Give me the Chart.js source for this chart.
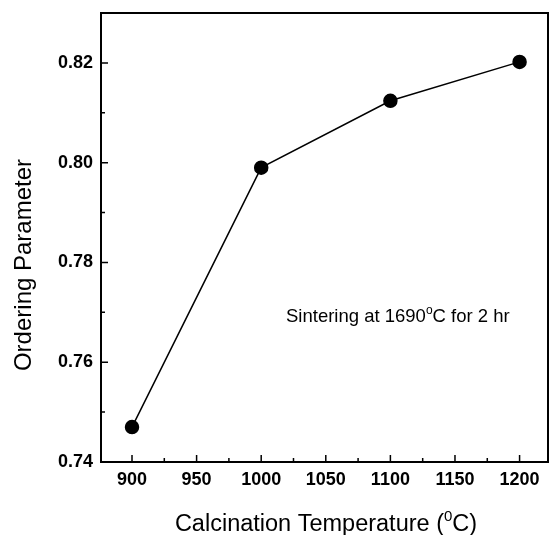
<!DOCTYPE html>
<html>
<head>
<meta charset="utf-8">
<script src="https://cdn.jsdelivr.net/npm/chart.js@4.4.0/dist/chart.umd.min.js"></script>
<style>
  html, body { margin: 0; padding: 0; background: #fff; overflow: hidden; }
  canvas { display: block; }
</style>
</head>
<body>
<canvas id="chart" width="550" height="535"></canvas>
<script>
// data
const temperatures = [900, 1000, 1100, 1200];
const orderingParameter = [0.747, 0.799, 0.8124, 0.8202];
const xTicks = [900, 950, 1000, 1050, 1100, 1150, 1200];
const yTicks = [0.74, 0.76, 0.78, 0.80, 0.82];
const xTitle = ['Calcination Temperature (', '0', 'C)'];
const yTitle = 'Ordering Parameter';
const note = ['Sintering at 1690', 'o', 'C for 2 hr'];

const FONT = "'Liberation Sans', Arial, sans-serif";
Chart.defaults.font.family = FONT;
Chart.defaults.color = '#000';

// text with a superscript in the middle: [before, sup, after]
function partsWidth(ctx, parts, size) {
    ctx.font = size + 'px ' + FONT;
    let w = ctx.measureText(parts[0]).width + ctx.measureText(parts[2]).width;
    ctx.font = Math.round(size * 0.65) + 'px ' + FONT;
    return w + ctx.measureText(parts[1]).width;
}

function drawParts(ctx, parts, x, y, size) {
    ctx.textAlign = 'left';
    ctx.textBaseline = 'alphabetic';
    ctx.font = size + 'px ' + FONT;
    ctx.fillText(parts[0], x, y);
    x += ctx.measureText(parts[0]).width;
    ctx.font = Math.round(size * 0.65) + 'px ' + FONT;
    ctx.fillText(parts[1], x, y - size * 0.42);
    x += ctx.measureText(parts[1]).width;
    ctx.font = size + 'px ' + FONT;
    ctx.fillText(parts[2], x, y);
}

// drop chart.js' own label padding so the plot box sits where the figure has it
function noPad(s) {
    s.paddingTop = s.paddingBottom = s.paddingLeft = s.paddingRight = 0;
}

const frame = {
    id: 'frame',
    afterDraw(chart) {
        const ctx = chart.ctx;
        const a = chart.chartArea;
        const xs = chart.scales.x, ys = chart.scales.y;
        ctx.save();
        ctx.strokeStyle = '#000';
        ctx.lineWidth = 2;
        ctx.strokeRect(a.left, a.top, a.right - a.left, a.bottom - a.top);

        // inward ticks, minor ones halfway
        ctx.lineWidth = 1.5;
        ctx.beginPath();
        xTicks.forEach((v, i) => {
            const px = xs.getPixelForValue(v);
            ctx.moveTo(px, a.bottom);
            ctx.lineTo(px, a.bottom - 7);
            if (i < xTicks.length - 1) {
                const m = xs.getPixelForValue((v + xTicks[i + 1]) / 2);
                ctx.moveTo(m, a.bottom);
                ctx.lineTo(m, a.bottom - 4);
            }
        });
        yTicks.forEach((v, i) => {
            const py = ys.getPixelForValue(v);
            ctx.moveTo(a.left, py);
            ctx.lineTo(a.left + 7, py);
            if (i < yTicks.length - 1) {
                const m = ys.getPixelForValue((v + yTicks[i + 1]) / 2);
                ctx.moveTo(a.left, m);
                ctx.lineTo(a.left + 4, m);
            }
        });
        ctx.stroke();

        ctx.fillStyle = '#000';
        // x title
        const xw = partsWidth(ctx, xTitle, 23.5);
        drawParts(ctx, xTitle, 326 - xw / 2, 531, 23.5);

        // y title
        ctx.translate(24, 265);
        ctx.rotate(-Math.PI / 2);
        ctx.font = '24px ' + FONT;
        ctx.textAlign = 'center';
        ctx.textBaseline = 'middle';
        ctx.fillText(yTitle, 0, 0);
        ctx.setTransform(1, 0, 0, 1, 0, 0);

        // annotation
        drawParts(ctx, note, 286, 322, 18.5);
        ctx.restore();
    }
};

new Chart(document.getElementById('chart'), {
    type: 'scatter',
    data: {
        datasets: [{
            data: temperatures.map((t, i) => ({ x: t, y: orderingParameter[i] })),
            showLine: true,
            borderColor: '#000',
            borderWidth: 1.5,
            backgroundColor: '#000',
            pointRadius: 6.5,
            pointHoverRadius: 6.5
        }]
    },
    options: {
        responsive: false,
        animation: false,
        layout: { autoPadding: false, padding: { top: 13, right: 2, left: 0, bottom: 0 } },
        plugins: { legend: { display: false }, tooltip: { enabled: false } },
        scales: {
            x: {
                type: 'linear',
                min: 876,
                max: 1222,
                afterBuildTicks: s => { s.ticks = xTicks.map(v => ({ value: v })); },
                afterFit: s => { s.height = 73; noPad(s); },
                grid: { display: false, drawTicks: false },
                border: { display: false },
                ticks: {
                    padding: 7,
                    maxRotation: 0,
                    font: { size: 18, weight: 'bold' },
                    callback: v => String(v)
                }
            },
            y: {
                min: 0.74,
                max: 0.83,
                afterBuildTicks: s => { s.ticks = yTicks.map(v => ({ value: v })); },
                afterFit: s => { s.width = 101; noPad(s); },
                grid: { display: false, drawTicks: false },
                border: { display: false },
                ticks: {
                    padding: 8,
                    font: { size: 18, weight: 'bold' },
                    callback: v => v.toFixed(2)
                }
            }
        }
    },
    plugins: [frame]
});
</script>
</body>
</html>
